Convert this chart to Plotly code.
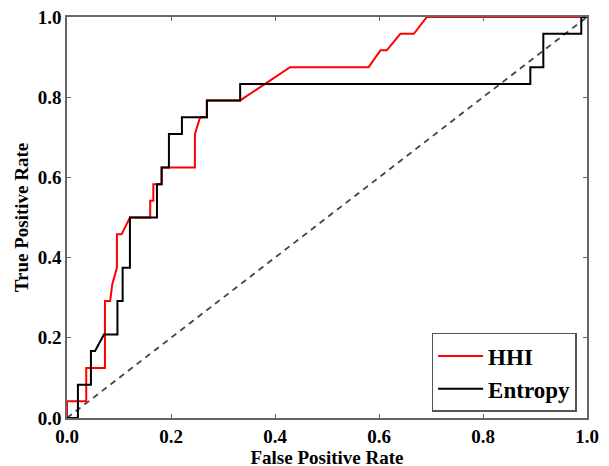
import plotly.graph_objects as go

# HHI ROC curve vertices
hhi_fpr = [0.0, 0.0, 0.037, 0.037, 0.073, 0.073, 0.083, 0.087, 0.096, 0.096, 0.105, 0.121,
           0.160, 0.160, 0.166, 0.166, 0.182, 0.182, 0.246, 0.246, 0.256, 0.269, 0.269,
           0.333, 0.429, 0.580, 0.603, 0.615, 0.641, 0.667, 0.692, 1.0]
hhi_tpr = [0.0, 0.042, 0.042, 0.125, 0.125, 0.292, 0.292, 0.333, 0.375, 0.458, 0.458, 0.500,
           0.500, 0.542, 0.542, 0.583, 0.583, 0.625, 0.625, 0.708, 0.750, 0.750, 0.792,
           0.792, 0.875, 0.875, 0.917, 0.917, 0.958, 0.958, 1.0, 1.0]

# Entropy ROC curve vertices
ent_fpr = [0.0, 0.021, 0.021, 0.046, 0.046, 0.054, 0.071, 0.097, 0.097, 0.107, 0.107, 0.121,
           0.121, 0.173, 0.173, 0.182, 0.182, 0.196, 0.196, 0.221, 0.221, 0.269, 0.269,
           0.333, 0.333, 0.891, 0.891, 0.916, 0.916, 0.989, 0.989, 1.0]
ent_tpr = [0.0, 0.0, 0.083, 0.083, 0.167, 0.167, 0.208, 0.208, 0.292, 0.292, 0.375, 0.375,
           0.500, 0.500, 0.583, 0.583, 0.625, 0.625, 0.708, 0.708, 0.750, 0.750, 0.792,
           0.792, 0.833, 0.833, 0.875, 0.875, 0.958, 0.958, 1.0, 1.0]

chance = [0.0, 1.0]

font_family = "Liberation Serif"

fig = go.Figure()
fig.add_trace(go.Scatter(x=chance, y=chance, mode="lines", showlegend=False,
                         line=dict(color="#444444", width=1.8, dash="6px,5px")))
fig.add_trace(go.Scatter(x=hhi_fpr, y=hhi_tpr, mode="lines", name="HHI",
                         line=dict(color="#ff0000", width=2)))
fig.add_trace(go.Scatter(x=ent_fpr, y=ent_tpr, mode="lines", name="Entropy",
                         line=dict(color="#000000", width=2)))

axis_common = dict(
    range=[0, 1], dtick=0.2, tickformat=".1f", automargin=False,
    ticklabeloverflow="allow",
    showgrid=False, zeroline=False,
    showline=True, linecolor="#666666", linewidth=1.5, mirror="ticks",
    ticks="inside", ticklen=4, tickcolor="#666666",
    tickfont=dict(family=font_family, size=19, color="#000000", weight="bold"),
)

# page body has an 8px default margin, so margins are offset to compensate
fig.update_layout(
    width=609, height=466,
    margin=dict(l=59, r=30, t=9, b=56),
    paper_bgcolor="white", plot_bgcolor="white",
    xaxis=dict(**axis_common,
               title=dict(text="<b>False Positive Rate</b>", standoff=0,
                          font=dict(family=font_family, size=19, color="#000000"))),
    yaxis=dict(**axis_common,
               title=dict(text="<b>True Positive Rate</b>", standoff=4,
                          font=dict(family=font_family, size=19, color="#000000"))),
    legend=dict(x=0.98, y=0.015, xanchor="right", yanchor="bottom",
                bordercolor="#555555", borderwidth=1.5, bgcolor="white",
                itemwidth=45,
                font=dict(family=font_family, size=23, color="#000000", weight="bold"),
                tracegroupgap=0),
)

fig.write_html("out.html")
